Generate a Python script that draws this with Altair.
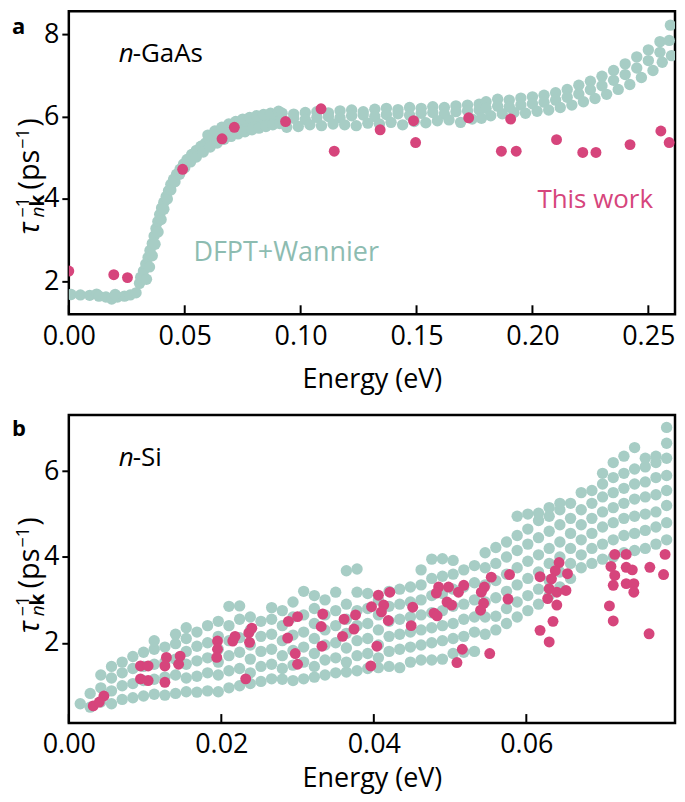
import altair as alt
import pandas as pd

FONT = "Open Sans"
TEAL = "#a7cdc5"
TEAL_TEXT = "#8dbcb1"
PINK = "#d6457c"

X_TITLE = "Energy (eV)"

# ---------------- panel a : n-GaAs ----------------
GAAS_X_TICKS = [0.00, 0.05, 0.10, 0.15, 0.20, 0.25]
GAAS_Y_TICKS = [2, 4, 6, 8]
GAAS_X_DOMAIN = [0.0, 0.2615]
GAAS_Y_DOMAIN = [1.2, 8.56]

GAAS_DFPT = [
    (0.001, 1.68), (0.005, 1.67), (0.009, 1.66), (0.012, 1.69), (0.013, 1.64), (0.016, 1.62),
    (0.0185, 1.57), (0.021, 1.62), (0.024, 1.64), (0.0265, 1.67), (0.029, 1.72), (0.020, 1.68),
    (0.0305, 1.95), (0.031, 2.10), (0.0322, 2.25), (0.0332, 2.42), (0.0342, 2.58), (0.035, 2.75),
    (0.036, 2.92), (0.0368, 3.10), (0.0376, 3.28), (0.0384, 3.45), (0.0392, 3.62), (0.040, 3.78),
    (0.041, 3.92), (0.042, 4.06), (0.043, 4.20), (0.044, 4.35), (0.0452, 4.48), (0.0465, 4.60),
    (0.048, 4.72), (0.0495, 4.85), (0.051, 4.96), (0.053, 5.08), (0.055, 5.18), (0.057, 5.28),
    (0.059, 5.36), (0.061, 5.44), (0.063, 5.52), (0.0655, 5.60), (0.068, 5.66), (0.071, 5.72),
    (0.074, 5.78), (0.077, 5.83), (0.080, 5.87), (0.083, 5.91), (0.086, 5.95), (0.089, 5.98),
    (0.0335, 2.05), (0.0348, 2.35), (0.036, 2.62), (0.0372, 2.90), (0.0385, 3.20), (0.0398, 3.50),
    (0.041, 3.75), (0.0425, 4.00), (0.044, 4.22), (0.0458, 4.42), (0.0478, 4.60), (0.050, 4.76),
    (0.0525, 4.90), (0.055, 5.02), (0.058, 5.14), (0.061, 5.26), (0.064, 5.36), (0.067, 5.45),
    (0.070, 5.52), (0.073, 5.58), (0.076, 5.63), (0.079, 5.68), (0.082, 5.72), (0.085, 5.76),
    (0.088, 5.80), (0.091, 5.83),
    (0.060, 5.55), (0.063, 5.65), (0.066, 5.74), (0.069, 5.82), (0.072, 5.88), (0.075, 5.94),
    (0.078, 5.98), (0.081, 6.02), (0.084, 6.05), (0.087, 6.08), (0.0905, 6.13),
    (0.092, 6.08), (0.097, 6.06), (0.102, 6.10), (0.107, 6.12), (0.112, 6.09), (0.117, 6.14),
    (0.122, 6.16), (0.127, 6.12), (0.132, 6.18), (0.137, 6.20), (0.142, 6.17), (0.147, 6.22),
    (0.152, 6.20), (0.157, 6.24), (0.162, 6.22), (0.167, 6.26), (0.172, 6.28), (0.177, 6.30),
    (0.092, 5.94), (0.097, 5.96), (0.102, 5.93), (0.107, 5.98), (0.112, 6.00), (0.117, 5.97),
    (0.122, 6.02), (0.127, 6.04), (0.132, 6.00), (0.137, 6.05), (0.142, 6.07), (0.147, 6.03),
    (0.152, 6.08), (0.157, 6.10), (0.162, 6.06), (0.167, 6.12), (0.172, 6.14), (0.177, 6.16),
    (0.094, 5.74), (0.099, 5.76), (0.104, 5.80), (0.109, 5.78), (0.114, 5.82), (0.119, 5.80),
    (0.124, 5.78), (0.129, 5.84), (0.134, 5.82), (0.139, 5.86), (0.144, 5.80), (0.149, 5.88),
    (0.154, 5.85), (0.159, 5.90), (0.164, 5.92), (0.169, 5.86), (0.174, 5.94), (0.178, 5.96),
    (0.180, 6.36), (0.185, 6.42), (0.190, 6.40), (0.195, 6.45), (0.200, 6.48), (0.205, 6.52),
    (0.210, 6.58), (0.215, 6.66), (0.220, 6.76), (0.225, 6.86), (0.230, 6.98), (0.235, 7.12),
    (0.240, 7.28), (0.245, 7.45), (0.250, 7.62), (0.255, 7.82), (0.2595, 8.22),
    (0.180, 6.20), (0.185, 6.25), (0.190, 6.24), (0.195, 6.28), (0.200, 6.31), (0.205, 6.35),
    (0.210, 6.40), (0.215, 6.47), (0.220, 6.55), (0.225, 6.65), (0.230, 6.75), (0.235, 6.88),
    (0.240, 7.02), (0.245, 7.18), (0.250, 7.36), (0.255, 7.56), (0.259, 7.85),
    (0.182, 6.02), (0.187, 6.07), (0.192, 6.10), (0.197, 6.08), (0.202, 6.13), (0.207, 6.16),
    (0.212, 6.22), (0.217, 6.28), (0.222, 6.36), (0.227, 6.44), (0.232, 6.54), (0.237, 6.66),
    (0.242, 6.78), (0.247, 6.95), (0.252, 7.12), (0.256, 7.32), (0.260, 7.48),
]

GAAS_WORK = [
    (0.0, 2.25), (0.0194, 2.16), (0.0253, 2.09), (0.0491, 4.72), (0.0661, 5.46), (0.0714, 5.74),
    (0.0935, 5.88), (0.1088, 6.19), (0.1145, 5.16), (0.1343, 5.68), (0.1487, 5.90), (0.1496, 5.37),
    (0.1725, 5.97), (0.1866, 5.16), (0.1906, 5.94), (0.1930, 5.16), (0.2104, 5.44), (0.2217, 5.13),
    (0.2274, 5.13), (0.2421, 5.32), (0.2554, 5.65), (0.2590, 5.37),
]

# ---------------- panel b : n-Si ----------------
SI_X_TICKS = [0.00, 0.02, 0.04, 0.06]
SI_Y_TICKS = [2, 4, 6]
SI_X_DOMAIN = [0.0, 0.0795]
SI_Y_DOMAIN = [0.13, 7.31]

SI_DFPT_E = [
    0.0015, 0.0028, 0.0042, 0.0056, 0.0070, 0.0084, 0.0098, 0.0112, 0.0126, 0.0140,
    0.0154, 0.0168, 0.0182, 0.0196, 0.0210, 0.0224, 0.0238, 0.0252, 0.0266, 0.0280,
    0.0294, 0.0308, 0.0322, 0.0336, 0.0350, 0.0364, 0.0378, 0.0392, 0.0406, 0.0420,
    0.0434, 0.0448, 0.0462, 0.0476, 0.0490, 0.0504, 0.0518, 0.0532, 0.0546, 0.0560,
    0.0574, 0.0588, 0.0602, 0.0616, 0.0630, 0.0644, 0.0658, 0.0672, 0.0686, 0.0700,
    0.0714, 0.0728, 0.0742, 0.0756, 0.0770, 0.0784,
]
SI_DFPT_R = [
    [0.58], [0.50, 0.82], [0.62, 0.95, 1.25], [0.58, 0.88, 1.18, 1.45],
    [0.68, 1.00, 1.30, 1.55], [0.72, 1.05, 1.40, 1.68], [0.76, 1.12, 1.45, 1.78],
    [0.80, 1.15, 1.50, 1.85, 2.05], [0.78, 1.20, 1.55, 1.90], [0.82, 1.25, 1.62, 1.98, 2.20],
    [0.86, 1.18, 1.50, 1.80, 2.10, 2.35], [0.85, 1.22, 1.58, 1.92, 2.25],
    [0.88, 1.30, 1.65, 2.00, 2.40], [0.86, 1.25, 1.55, 1.85, 2.15, 2.50],
    [0.95, 1.35, 1.70, 2.05, 2.40, 2.85], [1.00, 1.40, 1.78, 2.12, 2.55, 2.86],
    [1.05, 1.30, 1.62, 1.95, 2.30, 2.60], [1.10, 1.45, 1.80, 2.15, 2.50],
    [1.16, 1.50, 1.85, 2.20, 2.55, 2.82], [1.15, 1.40, 1.70, 2.05, 2.40, 2.75],
    [1.12, 1.48, 1.82, 2.18, 2.60, 2.95], [1.16, 1.55, 1.90, 2.25, 2.65, 3.20],
    [1.20, 1.45, 1.75, 2.10, 2.45, 2.80, 3.10], [1.25, 1.60, 1.95, 2.30, 2.65, 3.00],
    [1.30, 1.65, 2.00, 2.40, 2.75, 3.18], [1.32, 1.55, 1.88, 2.22, 2.55, 2.90, 3.68],
    [1.35, 1.70, 2.05, 2.40, 2.75, 3.18, 3.72], [1.40, 1.75, 2.10, 2.45, 2.80, 3.15],
    [1.42, 1.65, 1.95, 2.30, 2.65, 3.00], [1.45, 1.80, 2.15, 2.50, 2.85, 3.20],
    [1.42, 1.85, 2.20, 2.55, 2.90, 3.25], [1.55, 1.90, 2.25, 2.60, 2.95, 3.30],
    [1.60, 1.95, 2.30, 2.65, 3.00, 3.35, 3.70], [1.60, 2.00, 2.35, 2.70, 3.10, 3.50, 3.95],
    [1.62, 2.05, 2.40, 2.75, 3.15, 3.55, 3.96], [1.75, 2.10, 2.45, 2.85, 3.25, 3.60, 3.92],
    [1.78, 2.15, 2.55, 2.90, 3.30, 3.70], [1.80, 2.25, 2.60, 3.00, 3.40, 3.80],
    [2.20, 2.60, 2.95, 3.35, 3.75, 4.10], [2.30, 2.62, 3.05, 3.45, 3.85, 4.22],
    [2.45, 2.80, 3.20, 3.60, 4.00, 4.35], [2.60, 2.95, 3.35, 3.75, 4.15, 4.50, 4.95],
    [2.75, 3.10, 3.50, 3.90, 4.30, 4.65, 5.00], [2.90, 3.25, 3.65, 4.05, 4.45, 4.85, 5.02],
    [3.10, 3.45, 3.85, 4.20, 4.60, 4.95, 5.15], [3.30, 3.65, 4.00, 4.35, 4.75, 5.10, 5.25],
    [3.50, 3.85, 4.20, 4.55, 4.90, 5.25], [3.75, 4.05, 4.40, 4.75, 5.10, 5.50],
    [3.85, 4.20, 4.55, 4.90, 5.25, 5.55], [3.95, 4.30, 4.70, 5.05, 5.40, 5.70, 5.95],
    [4.00, 4.40, 4.80, 5.15, 5.50, 5.85, 6.20], [4.10, 4.50, 4.90, 5.25, 5.60, 5.95, 6.35],
    [4.15, 4.55, 4.95, 5.35, 5.70, 6.05, 6.55], [4.20, 4.62, 5.00, 5.40, 5.75, 6.10, 6.30],
    [4.30, 4.70, 5.05, 5.45, 5.85, 6.20, 6.35], [4.40, 4.80, 5.20, 5.55, 5.90, 6.30, 6.65, 7.02],
]

SI_WORK = [
    (0.0032, 0.53), (0.0046, 0.76), (0.0040, 0.62),
    (0.0094, 1.46), (0.0104, 1.46), (0.0094, 1.16), (0.0104, 1.12),
    (0.0128, 1.66), (0.0126, 1.46), (0.0126, 1.08), (0.0146, 1.69), (0.0144, 1.50),
    (0.0195, 2.04), (0.0195, 1.85), (0.0194, 1.66), (0.0215, 2.04), (0.0218, 2.15),
    (0.0236, 2.23), (0.0240, 2.34), (0.0237, 2.01), (0.0232, 1.16),
    (0.0288, 2.50), (0.0300, 2.61), (0.0287, 2.11), (0.0297, 1.75), (0.0300, 1.50),
    (0.0333, 2.67), (0.0331, 2.38), (0.0332, 1.92), (0.0361, 2.55), (0.0359, 2.15),
    (0.0376, 2.65), (0.0374, 2.32),
    (0.0406, 3.11), (0.0421, 3.18), (0.0397, 2.84), (0.0413, 2.88), (0.0410, 2.72),
    (0.0419, 2.52), (0.0404, 1.92), (0.0396, 1.46),
    (0.0451, 2.83), (0.0449, 2.40), (0.0479, 2.69), (0.0483, 2.63), (0.0485, 3.30),
    (0.0498, 3.30), (0.0482, 3.16), (0.0496, 2.95), (0.0502, 2.88), (0.0511, 3.18),
    (0.0518, 3.34), (0.0516, 1.85), (0.0509, 1.54),
    (0.0578, 3.59), (0.0576, 3.02), (0.0554, 3.53), (0.0545, 3.30), (0.0541, 3.18),
    (0.0544, 2.92), (0.0540, 2.76), (0.0552, 1.75),
    (0.0618, 3.54), (0.0643, 3.87), (0.0638, 3.68), (0.0633, 3.49), (0.0630, 3.26),
    (0.0628, 3.03), (0.0640, 3.18), (0.0640, 2.88), (0.0654, 3.61), (0.0652, 3.22),
    (0.0635, 2.50), (0.0618, 2.29), (0.0630, 2.02),
    (0.0716, 4.06), (0.0731, 4.06), (0.0711, 3.78), (0.0716, 3.57), (0.0714, 3.34),
    (0.0731, 3.76), (0.0739, 3.70), (0.0731, 3.38), (0.0741, 3.38), (0.0741, 3.18),
    (0.0709, 2.86), (0.0714, 2.51), (0.0762, 3.76), (0.0780, 3.59), (0.0782, 4.06),
    (0.0761, 2.21),
]

W = 608
H_A = 304
H_B = 309


def pairs_df(pairs):
    return pd.DataFrame(pairs, columns=["E", "R"])


def columns_df(xs, cols):
    rows = [(x, r) for x, col in zip(xs, cols) for r in col]
    return pd.DataFrame(rows, columns=["E", "R"])


def text_layer(txt, x, y, size=26, color="black", style="normal", weight="normal", angle=0):
    return alt.Chart(pd.DataFrame({"t": [txt]})).mark_text(
        align="left", baseline="alphabetic", font=FONT, fontSize=size,
        color=color, fontStyle=style, fontWeight=weight, angle=angle,
    ).encode(text="t:N", x=alt.value(x), y=alt.value(y))


def y_title_layers(ys):
    # rotated axis title tau_{nk}^{-1} (ps^{-1}), built from pieces
    xb = -30
    return [
        text_layer("τ", xb, ys, size=29, style="italic", angle=270),
        text_layer("−1", xb - 10, ys - 17, size=18, angle=270),
        text_layer("n", xb + 5, ys - 17, size=19, style="italic", angle=270),
        text_layer("k", xb + 5, ys - 28, size=19, weight="bold", angle=270),
        text_layer("(ps", xb, ys - 45, size=29, angle=270),
        text_layer("−1", xb - 10, ys - 86, size=18, angle=270),
        text_layer(")", xb, ys - 108, size=29, angle=270),
    ]


def panel(dfpt, work, xdom, ydom, xticks, yticks, letter, letter_y, mat_rest, extras,
          tpad, ys, h):
    x = alt.X("E:Q", scale=alt.Scale(domain=xdom, nice=False, zero=False),
              axis=alt.Axis(values=xticks, format=".2f", title=X_TITLE, ticks=False,
                            labelFlush=False, labelPadding=9, titlePadding=tpad))
    y = alt.Y("R:Q", scale=alt.Scale(domain=ydom, nice=False, zero=False),
              axis=alt.Axis(values=yticks, format="d", title=None, tickSize=7,
                            labelPadding=3))
    teal = alt.Chart(dfpt).mark_circle(size=130, color=TEAL, opacity=1, clip=True).encode(x=x, y=y)
    pink = alt.Chart(work).mark_circle(size=120, color=PINK, opacity=1, clip=True).encode(x=x, y=y)
    ticks = alt.Chart(pd.DataFrame({"E": xticks})).mark_rule(
        color="black", strokeWidth=2).encode(x=x, y=alt.value(h), y2=alt.value(h - 9))
    layers = [teal, pink, ticks,
              text_layer(letter, -57, letter_y, size=22, weight="bold"),
              text_layer("n", 50, 51, style="italic"),
              text_layer(mat_rest, 64, 51)] + y_title_layers(ys) + extras
    return alt.layer(*layers).properties(width=W, height=h)


chart_a = panel(pairs_df(GAAS_DFPT), pairs_df(GAAS_WORK), GAAS_X_DOMAIN, GAAS_Y_DOMAIN,
                GAAS_X_TICKS, GAAS_Y_TICKS, "a", 23, "-GaAs",
                [text_layer("DFPT+Wannier", 125, 251, size=27, color=TEAL_TEXT),
                 text_layer("This work", 470, 197, color=PINK)], 17, 224, H_A)
chart_b = panel(columns_df(SI_DFPT_E, SI_DFPT_R), pairs_df(SI_WORK), SI_X_DOMAIN, SI_Y_DOMAIN,
                SI_X_TICKS, SI_Y_TICKS, "b", 21, "-Si", [], 8, 219, H_B)

chart = alt.vconcat(chart_a, chart_b, spacing=19).properties(
    padding={"left": 2, "right": 0, "top": 0, "bottom": 0}
).configure_view(
    stroke="black", strokeWidth=2.5
).configure_axis(
    domain=False, grid=False, labelFont=FONT, titleFont=FONT, labelFontSize=27,
    titleFontSize=27, titleFontWeight="normal", labelColor="black", titleColor="black",
    tickColor="black", tickWidth=2,
)

chart.save("out.html", embed_options={"renderer": "svg", "actions": False})
